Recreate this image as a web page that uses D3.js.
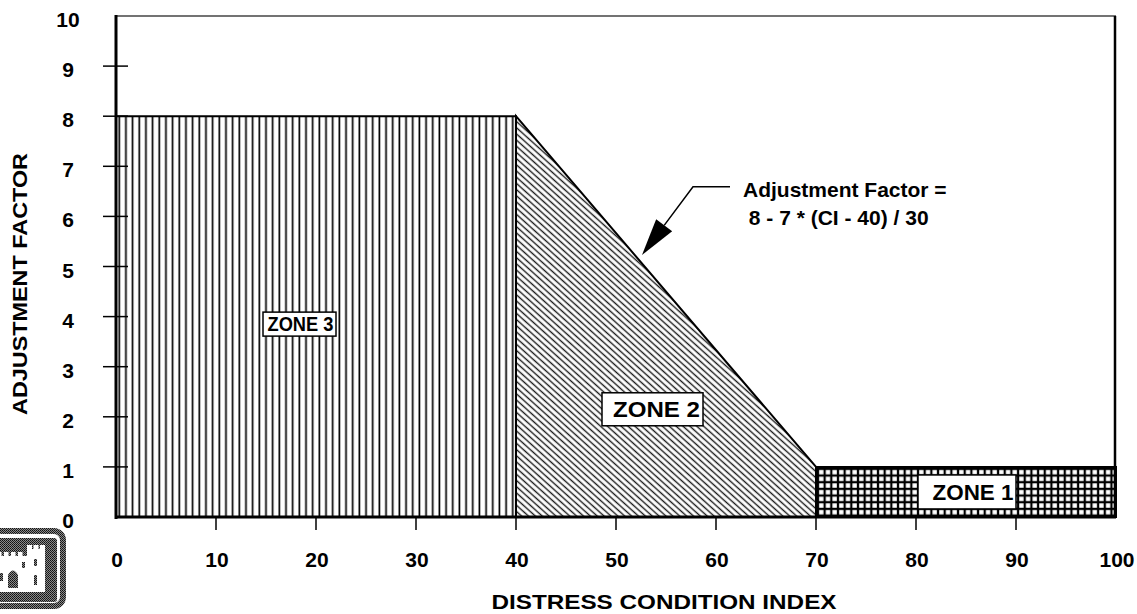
<!DOCTYPE html>
<html>
<head>
<meta charset="utf-8">
<script src="https://cdnjs.cloudflare.com/ajax/libs/d3/7.8.5/d3.min.js"></script>
<style>
  html, body { margin: 0; padding: 0; background: #fff; }
  svg { display: block; }
  text { font-family: "Liberation Sans", Arial, Helvetica, sans-serif; font-weight: bold; fill: #000; }
</style>
</head>
<body>
<svg id="chart" width="1137" height="614"></svg>
<script>
// Adjustment-factor profile: breakpoints of the condition index and factor values
const conditionIndex = [0, 40, 70, 100];
const adjustmentFactor = [8, 8, 1, 1];

// Zones between successive breakpoints (left to right); label box centre in data units
const zoneNames = ["ZONE 3", "ZONE 2", "ZONE 1"];
const zoneLabelCI = [18.35, 53.65, 85.1];
const zoneLabelAF = [3.85, 2.15, 0.5];
const zoneFills = ["url(#vlines)", "url(#diag)", "url(#grid)"];
// label box size and text styling (pixels)
const zoneBoxW = [73, 101, 98];
const zoneBoxH = [24, 33, 34];
const zoneTextW = [66, 87, 81];
const zoneTextDx = [1, 4, 6];
const zoneTextSize = [20, 22, 22];

// Ticks
const xTicks = [0, 10, 20, 30, 40, 50, 60, 70, 80, 90, 100];
const yTicks = [0, 1, 2, 3, 4, 5, 6, 7, 8, 9, 10];

// Formula annotation: text lines and leader (elbow start, elbow, arrow tip) in data units
const formulaLines = ["Adjustment Factor =", " 8 - 7 * (CI - 40) / 30"];
const formulaAnchor = { ci: 62.7, af: 6.39 };
const leaderCI = [61.4, 57.7, 52.6];
const leaderAF = [6.59, 6.59, 5.23];

const xTitle = "DISTRESS CONDITION INDEX";
const yTitle = "ADJUSTMENT FACTOR";

const svg = d3.select("#chart");
const x = d3.scaleLinear().domain([0, 100]).range([116, 1116]);
const y = d3.scaleLinear().domain([0, 10]).range([517, 16]);

// ---------- fill patterns ----------
const defs = svg.append("defs");
const vl = defs.append("pattern").attr("id", "vlines")
  .attr("patternUnits", "userSpaceOnUse").attr("width", 6.67).attr("height", 10)
  .attr("x", 116);
vl.append("rect").attr("width", 6.67).attr("height", 10).attr("fill", "#fff");
vl.append("rect").attr("x", 2.4).attr("width", 1.7).attr("height", 10).attr("fill", "#000");

const dg = defs.append("pattern").attr("id", "diag")
  .attr("patternUnits", "userSpaceOnUse").attr("width", 4.6).attr("height", 10)
  .attr("patternTransform", "rotate(-48)");
dg.append("rect").attr("width", 4.6).attr("height", 10).attr("fill", "#fff");
dg.append("rect").attr("x", 1.6).attr("width", 1.4).attr("height", 10).attr("fill", "#1a1a1a");

const gr = defs.append("pattern").attr("id", "grid")
  .attr("patternUnits", "userSpaceOnUse").attr("width", 6.67).attr("height", 6.67)
  .attr("x", x(70) + 1).attr("y", y(1) + 1);
gr.append("rect").attr("width", 6.67).attr("height", 6.67).attr("fill", "#000");
gr.append("rect").attr("x", 2.1).attr("y", 2.1).attr("width", 4.4).attr("height", 4.4).attr("fill", "#fff");

const ht = defs.append("pattern").attr("id", "halftone")
  .attr("patternUnits", "userSpaceOnUse").attr("width", 2).attr("height", 2);
ht.append("rect").attr("width", 2).attr("height", 2).attr("fill", "#8a8a8a");
ht.append("rect").attr("width", 1).attr("height", 1).attr("fill", "#111");
ht.append("rect").attr("x", 1).attr("y", 1).attr("width", 1).attr("height", 1).attr("fill", "#222");

// ---------- zones ----------
const area = d3.area().x(d => x(d[0])).y0(y(0)).y1(d => y(d[1]));
const zones = zoneNames.map((name, i) => ({
  name,
  pts: [[conditionIndex[i], adjustmentFactor[i]], [conditionIndex[i + 1], adjustmentFactor[i + 1]]],
  fill: zoneFills[i]
}));
svg.append("g").selectAll("path").data(zones).join("path")
  .attr("d", d => area(d.pts))
  .attr("fill", d => d.fill)
  .attr("stroke", "#000").attr("stroke-width", 2)
  .attr("stroke-linejoin", "miter");

// ---------- frame ----------
svg.append("line").attr("x1", x(0)).attr("x2", x(100)).attr("y1", y(10)).attr("y2", y(10))
  .attr("stroke", "#444").attr("stroke-width", 1.5);
svg.append("line").attr("x1", x(100) - 1).attr("x2", x(100) - 1).attr("y1", y(10)).attr("y2", y(0))
  .attr("stroke", "#000").attr("stroke-width", 2.5);

// y axis: ticks crossing the axis line
svg.append("line").attr("x1", x(0)).attr("x2", x(0)).attr("y1", y(10) - 1).attr("y2", y(0) + 2)
  .attr("stroke", "#000").attr("stroke-width", 3);
svg.append("g").selectAll("line").data(yTicks.filter(v => v > 0 && v < 10)).join("line")
  .attr("x1", x(0) - 13).attr("x2", x(0) + 12)
  .attr("y1", d => y(d)).attr("y2", d => y(d))
  .attr("stroke", "#000").attr("stroke-width", 1.5);
svg.append("g").selectAll("text").data(yTicks).join("text")
  .attr("x", 68).attr("y", d => y(d) + 11)
  .attr("text-anchor", "middle").attr("font-size", 21)
  .text(d => d);

// x axis
svg.append("line").attr("x1", x(0) - 1).attr("x2", x(100)).attr("y1", y(0)).attr("y2", y(0))
  .attr("stroke", "#000").attr("stroke-width", 3);
svg.append("g").selectAll("line").data(xTicks.filter(v => v > 0 && v < 100)).join("line")
  .attr("x1", d => x(d)).attr("x2", d => x(d))
  .attr("y1", y(0)).attr("y2", y(0) + 13)
  .attr("stroke", "#000").attr("stroke-width", 1.5);
svg.append("g").selectAll("text").data(xTicks).join("text")
  .attr("x", d => x(d) + 1).attr("y", 567)
  .attr("text-anchor", "middle").attr("font-size", 21)
  .text(d => d);

// axis titles
svg.append("text").attr("x", 664).attr("y", 609).attr("text-anchor", "middle")
  .attr("font-size", 20).attr("textLength", 345).attr("lengthAdjust", "spacingAndGlyphs")
  .text(xTitle);
svg.append("text").attr("transform", "translate(27,284) rotate(-90)").attr("text-anchor", "middle")
  .attr("font-size", 20).attr("textLength", 262).attr("lengthAdjust", "spacingAndGlyphs")
  .text(yTitle);

// ---------- zone labels ----------
const labels = svg.append("g").selectAll("g").data(zoneNames).join("g")
  .attr("transform", (d, i) => `translate(${x(zoneLabelCI[i])},${y(zoneLabelAF[i])})`);
labels.append("rect")
  .attr("x", (d, i) => -zoneBoxW[i] / 2)
  .attr("y", (d, i) => -zoneBoxH[i] / 2)
  .attr("width", (d, i) => zoneBoxW[i])
  .attr("height", (d, i) => zoneBoxH[i])
  .attr("fill", "#fff").attr("stroke", "#000").attr("stroke-width", 1.5);
labels.append("text")
  .attr("x", (d, i) => zoneTextDx[i])
  .attr("y", (d, i) => zoneTextSize[i] * 0.36)
  .attr("text-anchor", "middle")
  .attr("font-size", (d, i) => zoneTextSize[i])
  .attr("textLength", (d, i) => zoneTextW[i]).attr("lengthAdjust", "spacingAndGlyphs")
  .text(d => d);

// ---------- formula annotation ----------
svg.append("text").attr("x", x(formulaAnchor.ci)).attr("y", y(formulaAnchor.af))
  .attr("font-size", 21)
  .selectAll("tspan").data(formulaLines).join("tspan")
  .attr("x", x(formulaAnchor.ci)).attr("dy", (d, i) => i === 0 ? 0 : 28)
  .attr("xml:space", "preserve")
  .text(d => d);

const lp = leaderCI.map((c, i) => [x(c), y(leaderAF[i])]);
const tip = lp[2], from = lp[1];
const dx = tip[0] - from[0], dy = tip[1] - from[1];
const len = Math.hypot(dx, dy), ux = dx / len, uy = dy / len;
const headLen = 37, headHalf = 10;
const base = [tip[0] - ux * headLen, tip[1] - uy * headLen];
svg.append("path")
  .attr("d", d3.line()([lp[0], lp[1], base]))
  .attr("fill", "none").attr("stroke", "#000").attr("stroke-width", 1.5);
svg.append("path")
  .attr("d", d3.line()([tip, [base[0] - uy * headHalf, base[1] + ux * headHalf],
                       [base[0] + uy * headHalf, base[1] - ux * headHalf]]) + "Z")
  .attr("fill", "#000");

// ---------- emblem (castle) at lower left ----------
const logo = svg.append("g");
logo.append("rect").attr("x", -30).attr("y", 531).attr("width", 93).attr("height", 75)
  .attr("rx", 9).attr("fill", "none").attr("stroke", "url(#halftone)").attr("stroke-width", 6);
logo.append("rect").attr("x", -30).attr("y", 538).attr("width", 87).attr("height", 64)
  .attr("rx", 3).attr("fill", "url(#halftone)");
const white = "#fff";
// right tower with merlons
logo.append("rect").attr("x", 27).attr("y", 549).attr("width", 18).attr("height", 43).attr("fill", white);
[27, 33.5, 40].forEach(m => logo.append("rect").attr("x", m).attr("y", 545).attr("width", 5).attr("height", 5).attr("fill", white));
// wall with merlons
logo.append("rect").attr("x", -5).attr("y", 556).attr("width", 33).attr("height", 36).attr("fill", white);
[-3, 4, 11, 18].forEach(m => logo.append("rect").attr("x", m).attr("y", 552).attr("width", 4.5).attr("height", 5).attr("fill", white));
// door and windows
logo.append("path").attr("d", "M8,588 L8,575 Q13,566 18,575 L18,588 Z").attr("fill", "url(#halftone)");
logo.append("rect").attr("x", 34).attr("y", 559).attr("width", 3).attr("height", 7).attr("fill", "url(#halftone)");
logo.append("rect").attr("x", 34).attr("y", 575).attr("width", 3).attr("height", 10).attr("fill", "url(#halftone)");
logo.append("rect").attr("x", 0).attr("y", 573).attr("width", 3).attr("height", 8).attr("fill", "url(#halftone)");
logo.append("rect").attr("x", 22).attr("y", 562).attr("width", 3).attr("height", 6).attr("fill", "url(#halftone)");
</script>
</body>
</html>
